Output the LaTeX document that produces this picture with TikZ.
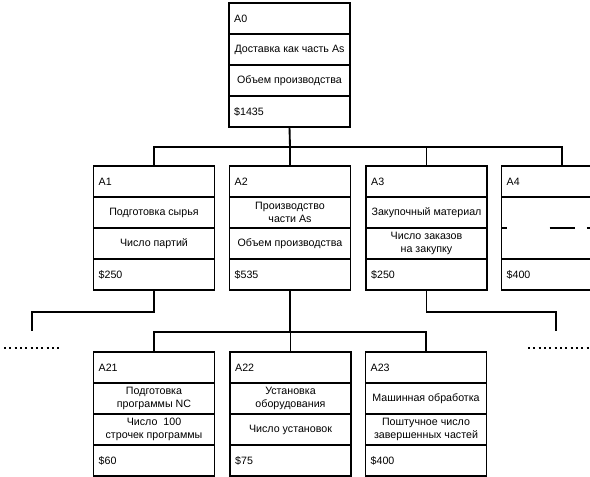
\documentclass[tikz,border=0pt]{standalone}
\usepackage{fontspec}
\setmainfont{Liberation Sans}
\usetikzlibrary{positioning}

\begin{document}
\begin{tikzpicture}[
  x=0.75pt, y=-0.75pt,
  node distance=0pt,
  cell/.style={draw, line width=1.4pt, outer sep=0pt, inner sep=0pt,
               minimum width=90.75pt, minimum height=23.25pt,
               font=\fontsize{8}{9.5}\selectfont},
  head/.style={cell, text width=83pt, align=left},
  body/.style={cell, align=center},
  link/.style={line width=1.4pt}
]
\path[use as bounding box, clip] (0,0) rectangle (590,477);

% top level
\node[head] (a0) at (289.5,18.5) {A0};
\node[body, below=of a0] (a0d) {Доставка как часть As};
\node[body, below=of a0d] (a0m) {Объем производства};
\node[head, below=of a0m] (a0c) {\$1435};

% second level
\node[head] (a1) at (154,181.5) {A1};
\node[body, below=of a1] (a1d) {Подготовка сырья};
\node[body, below=of a1d] (a1m) {Число партий};
\node[head, below=of a1m] (a1c) {\$250};

\node[head] (a2) at (290,181.5) {A2};
\node[body, below=of a2] (a2d) {Производство\\части As};
\node[body, below=of a2d] (a2m) {Объем производства};
\node[head, below=of a2m] (a2c) {\$535};

\node[head] (a3) at (426.5,181.5) {A3};
\node[body, below=of a3] (a3d) {Закупочный материал};
\node[body, below=of a3d] (a3m) {Число заказов\\на закупку};
\node[head, below=of a3m] (a3c) {\$250};

\node[head] (a4) at (562,181.5) {A4};
\node[body, minimum height=46.5pt, below=of a4] (a4d) {};
\node[head, below=of a4d] (a4c) {\$400};
\draw[link] (a4d.west) -- ++(5,0);
\draw[link] ([xshift=36pt]a4d.west) -- ++(25,0);
\draw[link] ([xshift=64pt]a4d.west) -- ++(10,0);

% third level
\node[head] (a21) at (154,367.5) {A21};
\node[body, below=of a21] (a21d) {Подготовка\\программы NC};
\node[body, below=of a21d] (a21m) {Число~~100\\строчек программы};
\node[head, below=of a21m] (a21c) {\$60};

\node[head] (a22) at (290.5,367.5) {A22};
\node[body, below=of a22] (a22d) {Установка\\оборудования};
\node[body, below=of a22d] (a22m) {Число установок};
\node[head, below=of a22m] (a22c) {\$75};

\node[head] (a23) at (426,367.5) {A23};
\node[body, below=of a23] (a23d) {Машинная обработка};
\node[body, below=of a23d] (a23m) {Поштучное число\\завершенных частей};
\node[head, below=of a23m] (a23c) {\$400};

% connectors
\coordinate (bus0) at (290,147);
\draw[link] (a0c.south) -- (bus0);
\draw[link] (a1.north) |- (bus0) -| (a4.north);
\draw[link] (a2.north) -- (a2.north |- bus0);
\draw[link] (a3.north) -- (a3.north |- bus0);

\coordinate (bl) at (32,312);
\coordinate (blend) at (32,331);
\draw[link] (a1c.south) |- (bl) -- (blend);
\coordinate (br) at (556,312);
\coordinate (brend) at (556,331);
\draw[link] (a3c.south) |- (br) -- (brend);

\coordinate (bus2) at (290,332);
\draw[link] (a2c.south) -- (bus2);
\draw[link] (a21.north) |- (bus2) -| (a23.north);
\draw[link] (a22.north) -- (a22.north |- bus2);

% omitted branches
\draw[line width=1.5pt, dash pattern=on 1.5pt off 2.5pt] (4,348) -- (62,348);
\draw[line width=1.5pt, dash pattern=on 1.5pt off 2.5pt] (528,348) -- (590,348);
\end{tikzpicture}
\end{document}
